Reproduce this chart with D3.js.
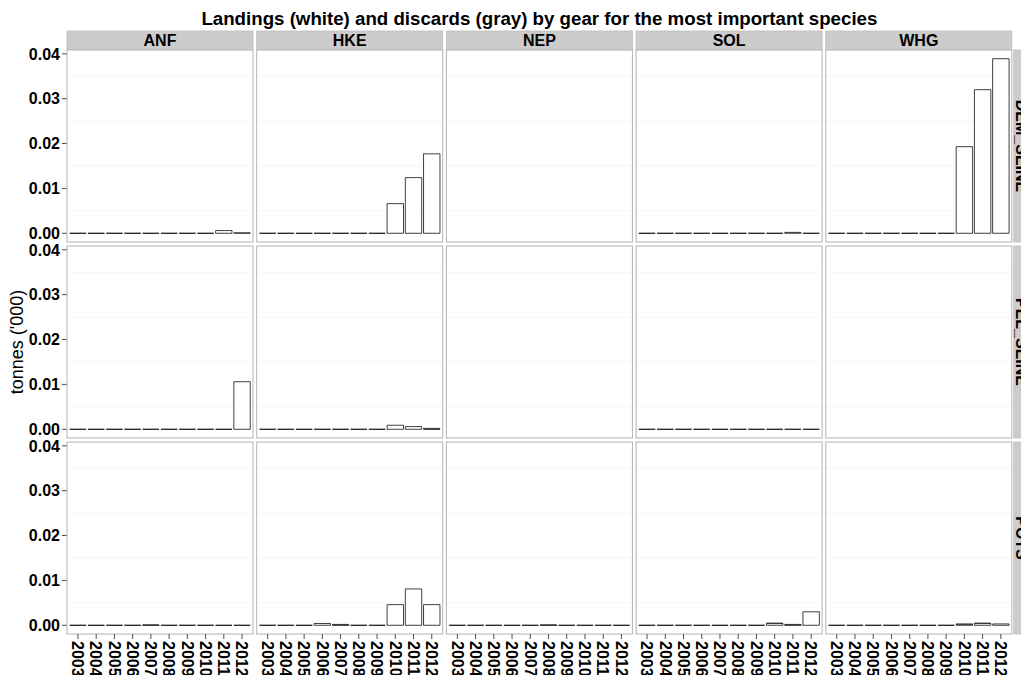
<!DOCTYPE html>
<html><head><meta charset="utf-8">
<script src="https://cdn.jsdelivr.net/npm/d3@7"></script>
<style>body{margin:0;background:#fff}svg{display:block;font-family:"Liberation Sans",Arial,sans-serif}</style>
</head><body><svg id="c" width="1021" height="675"></svg>
<script>
const years = ["2003","2004","2005","2006","2007","2008","2009","2010","2011","2012"];
const species = ["ANF","HKE","NEP","SOL","WHG"];
const gears = ["DEM_SEINE","PEL_SEINE","POTS"];
const yTicks = [0, 0.01, 0.02, 0.03, 0.04];
const yMinor = [0.005, 0.015, 0.025, 0.035];

// landings (white) per gear x species; null = no data in panel
const landDEM_ANF = [0,0,0,0,0,0,0,0,0.0006,0.0001];
const landDEM_HKE = [0,0,0,0,0,0,0,0.0066,0.0124,0.0177];
const landDEM_NEP = null;
const landDEM_SOL = [0,0,0,0,0,0,0,0,0.0002,0];
const landDEM_WHG = [0,0,0,0,0,0,0,0.0193,0.0320,0.0389];
const landPEL_ANF = [0,0,0,0,0,0,0,0,0,0.0106];
const landPEL_HKE = [0,0,0,0,0,0,0,0.0009,0.0006,0.0001];
const landPEL_NEP = null;
const landPEL_SOL = [0,0,0,0,0,0,0,0,0,0];
const landPEL_WHG = null;
const landPOT_ANF = [0,0,0,0,0,0,0,0,0,0];
const landPOT_HKE = [0,0,0,0.0004,0.0001,0,0,0.0046,0.0081,0.0046];
const landPOT_NEP = [0,0,0,0,0,0,0,0,0,0];
const landPOT_SOL = [0,0,0,0,0,0,0,0.0004,0.0001,0.0030];
const landPOT_WHG = [0,0,0,0,0,0,0,0.0002,0.0004,0.0003];
// discards (gray)
const discDEM_ANF = [0,0,0,0,0,0,0,0,0,0];
const discDEM_HKE = [0,0,0,0,0,0,0,0,0,0];
const discDEM_SOL = [0,0,0,0,0,0,0,0,0,0];
const discDEM_WHG = [0,0,0,0,0,0,0,0,0,0];
const discPEL_ANF = [0,0,0,0,0,0,0,0,0,0];
const discPEL_HKE = [0,0,0,0,0,0,0,0,0,0.0001];
const discPEL_SOL = [0,0,0,0,0,0,0,0,0,0];
const discPOT_ANF = [0,0,0,0,0.0001,0,0,0,0,0];
const discPOT_HKE = [0,0,0,0,0.0001,0,0,0,0,0];
const discPOT_NEP = [0,0,0,0,0,0.0001,0,0,0,0];
const discPOT_SOL = [0,0,0,0,0,0,0,0.0001,0.0001,0];
const discPOT_WHG = [0,0,0,0,0,0,0,0.0001,0.0001,0];

const landings = {
  DEM_SEINE:{ANF:landDEM_ANF,HKE:landDEM_HKE,NEP:landDEM_NEP,SOL:landDEM_SOL,WHG:landDEM_WHG},
  PEL_SEINE:{ANF:landPEL_ANF,HKE:landPEL_HKE,NEP:landPEL_NEP,SOL:landPEL_SOL,WHG:landPEL_WHG},
  POTS:{ANF:landPOT_ANF,HKE:landPOT_HKE,NEP:landPOT_NEP,SOL:landPOT_SOL,WHG:landPOT_WHG}
};
const discards = {
  DEM_SEINE:{ANF:discDEM_ANF,HKE:discDEM_HKE,SOL:discDEM_SOL,WHG:discDEM_WHG},
  PEL_SEINE:{ANF:discPEL_ANF,HKE:discPEL_HKE,SOL:discPEL_SOL},
  POTS:{ANF:discPOT_ANF,HKE:discPOT_HKE,NEP:discPOT_NEP,SOL:discPOT_SOL,WHG:discPOT_WHG}
};

const svg = d3.select("#c");
const left = 67, panelW = 186, gapX = 3.7;
const top0 = 50, panelH = 192, gapY = 4;
const stripH = 19;

// ggplot-like discrete expansion: 0.6 units each side
const unit = panelW / (years.length - 1 + 1.2);
const x = d3.scaleLinear().domain([0, years.length - 1]).range([0.6 * unit, panelW - 0.6 * unit]);
const xc = yr => x(years.indexOf(yr));
const bw = 0.9 * unit;

let maxV = 0;
gears.forEach(g => species.forEach(s => {
  const L = landings[g][s]; if (!L) return;
  const D = discards[g][s] || [];
  L.forEach((v,i) => { maxV = Math.max(maxV, v + (D[i]||0)); });
}));
const yScale = d3.scaleLinear().domain([-maxV*0.05, maxV*1.05]).range([panelH, 0]);

const barPath = (x0, y0, w, h) => `M${x0},${y0}h${w}v${h}h${-w}Z`;

// title
svg.append("text").attr("x", (left + left + 5*panelW + 4*gapX)/2).attr("y", 25)
  .attr("text-anchor","middle").attr("font-size",18.7).attr("font-weight","bold")
  .text("Landings (white) and discards (gray) by gear for the most important species");

// y axis title
svg.append("text").attr("transform", `translate(23,${top0 + (3*panelH+2*gapY)/2}) rotate(-90)`)
  .attr("text-anchor","middle").attr("font-size",18).text("tonnes ('000)");

// strips top
species.forEach((s, j) => {
  const px = left + j*(panelW+gapX);
  svg.append("rect").attr("x", px).attr("y", top0 - stripH).attr("width", panelW).attr("height", stripH)
    .attr("fill","#cccccc").attr("stroke","#bdbdbd").attr("stroke-width",0.8);
  svg.append("text").attr("x", px + panelW/2).attr("y", top0 - 4).attr("text-anchor","middle")
    .attr("font-size",16).attr("font-weight","bold").text(s);
});

gears.forEach((g, i) => {
  const py = top0 + i*(panelH+gapY);
  // right strip (clipped by page edge as in the reference)
  const sx = left + 5*panelW + 4*gapX + 2;
  svg.append("rect").attr("x", sx).attr("y", py).attr("width", 22).attr("height", panelH)
    .attr("fill","#cccccc").attr("stroke","#bdbdbd").attr("stroke-width",0.8);
  svg.append("text").attr("transform", `translate(${sx+2.5},${py+panelH/2}) rotate(90)`)
    .attr("text-anchor","middle").attr("font-size",16).attr("font-weight","bold").text(g);

  // y axis
  const ya = svg.append("g").attr("transform", `translate(${left},${py})`);
  yTicks.forEach(t => {
    ya.append("line").attr("x1",-5).attr("x2",0).attr("y1",yScale(t)).attr("y2",yScale(t))
      .attr("stroke","#4d4d4d").attr("stroke-width",1);
    ya.append("text").attr("x",-7).attr("y",yScale(t)).attr("dy","0.36em").attr("text-anchor","end")
      .attr("font-size",16).attr("font-weight","bold").text(d3.format(".2f")(t));
  });

  species.forEach((s, j) => {
    const px = left + j*(panelW+gapX);
    const p = svg.append("g").attr("transform", `translate(${px},${py})`);
    p.append("rect").attr("width",panelW).attr("height",panelH).attr("fill","#fff");
    yMinor.forEach(t => p.append("line").attr("x1",0).attr("x2",panelW).attr("y1",yScale(t)).attr("y2",yScale(t))
      .attr("stroke","#f2f2f2").attr("stroke-width",0.8));
    const L = landings[g][s];
    if (L) {
      const D = discards[g][s] || L.map(() => 0);
      years.forEach((yr, k) => {
        const l = L[k], d = D[k] || 0;
        p.append("path").attr("d", barPath(xc(yr) - bw/2, yScale(l), bw, yScale(0) - yScale(l)))
          .attr("fill","#fff").attr("stroke","#000").attr("stroke-width",0.75);
        if (d > 0) {
          p.append("path").attr("d", barPath(xc(yr) - bw/2, yScale(l+d), bw, yScale(l) - yScale(l+d)))
            .attr("fill","#999").attr("stroke","#333").attr("stroke-width",0.75);
        }
      });
    }
    p.append("rect").attr("width",panelW).attr("height",panelH).attr("fill","none")
      .attr("stroke","#b3b3b3").attr("stroke-width",1);

    if (i === gears.length - 1) {
      years.forEach(yr => {
        p.append("line").attr("x1",xc(yr)).attr("x2",xc(yr)).attr("y1",panelH).attr("y2",panelH+5)
          .attr("stroke","#4d4d4d").attr("stroke-width",1);
        p.append("text").attr("transform", `translate(${xc(yr)},${panelH+7}) rotate(90)`)
          .attr("dy","0.36em").attr("text-anchor","start")
          .attr("font-size",16).attr("font-weight","bold").text(yr);
      });
    }
  });
});
</script></body></html>
